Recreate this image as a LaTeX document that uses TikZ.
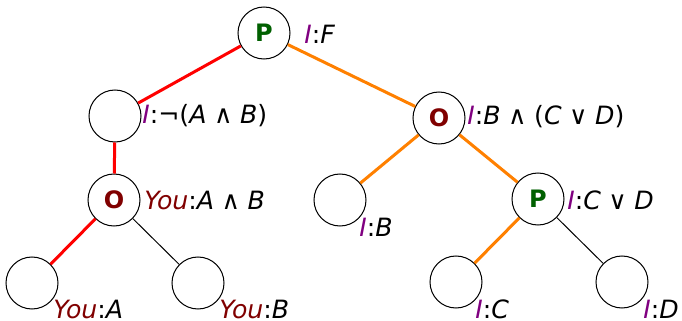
\documentclass[tikz,border=0pt]{standalone}
\usepackage{fontspec}
\setmainfont{DejaVu Sans}
\definecolor{ipurple}{RGB}{128,0,128}
\definecolor{youred}{RGB}{128,0,0}
\definecolor{pgreen}{RGB}{0,96,0}
\definecolor{edgered}{RGB}{255,0,0}
\definecolor{edgeorange}{RGB}{255,128,0}
\newcommand{\Ime}{\textcolor{ipurple}{\textit{I}}}
\newcommand{\Yme}{\textcolor{youred}{\textit{You}}}
\newcommand{\opsp}[1]{\hspace{0.3em}#1\hspace{0.3em}}
\begin{document}
\begin{tikzpicture}[x=0.5pt,y=-0.5pt,
  gnode/.style={circle,draw=black,line width=0.5pt,minimum size=26pt,inner sep=0pt,fill=white,font=\fontsize{12}{14}\selectfont\bfseries},
  plabel/.style={text=pgreen},
  olabel/.style={text=youred},
  lab/.style={anchor=base west,inner sep=0pt,font=\fontsize{12.6}{15}\selectfont},
  redge/.style={draw=edgered,line width=1.5pt},
  oedge/.style={draw=edgeorange,line width=1.5pt},
  bedge/.style={draw=black,line width=0.5pt}]
\useasboundingbox (0,0) rectangle (682,321);
\node[gnode,plabel] (p) at (264,33) {P};
\node[gnode] (n1) at (115,116) {};
\node[gnode,olabel] (n2) at (439,118) {O};
\node[gnode,olabel] (n3) at (114,200) {O};
\node[gnode] (n4) at (340,200) {};
\node[gnode,plabel] (n5) at (538,199) {P};
\node[gnode] (l1) at (32,283) {};
\node[gnode] (l2) at (198,283) {};
\node[gnode] (l3) at (456,282) {};
\node[gnode] (l4) at (622,282) {};
\draw[redge] (p) -- (n1);
\draw[oedge] (p) -- (n2);
\draw[redge] (n1) -- (n3);
\draw[oedge] (n2) -- (n4);
\draw[oedge] (n2) -- (n5);
\draw[redge] (n3) -- (l1);
\draw[bedge] (n3) -- (l2);
\draw[oedge] (n5) -- (l3);
\draw[bedge] (n5) -- (l4);
\node[lab] (tp) at (304,43) {\Ime:\textit{F}};
\node[lab] (t1) at (142,124) {\Ime:¬(\textit{A}\opsp{∧}\textit{B})};
\node[lab] (t2) at (467,125) {\Ime:\textit{B}\opsp{∧}(\textit{C}\opsp{∨}\textit{D})};
\node[lab] (t3) at (144,209) {\Yme:\textit{A}\opsp{∧}\textit{B}};
\node[lab] (t5) at (567,209) {\Ime:\textit{C}\opsp{∨}\textit{D}};
\node[lab] (t4) at (359,236) {\Ime:\textit{B}};
\node[lab] (tl1) at (53,318) {\Yme:\textit{A}};
\node[lab] (tl2) at (219,318) {\Yme:\textit{B}};
\node[lab] (tl3) at (475,318) {\Ime:\textit{C}};
\node[lab] (tl4) at (643,318) {\Ime:\textit{D}};
\end{tikzpicture}
\end{document}
